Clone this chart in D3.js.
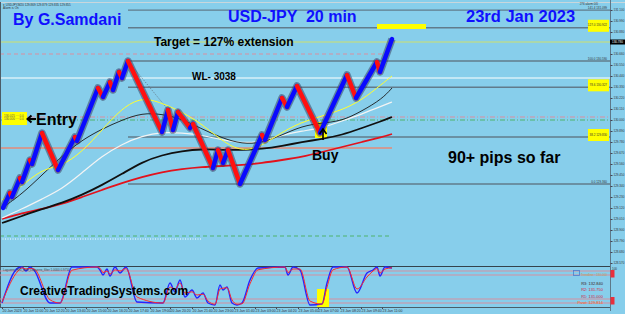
<!DOCTYPE html>
<html>
<head>
<meta charset="utf-8">
<script src="https://cdn.jsdelivr.net/npm/d3@7"></script>
<style>
body { margin: 0; background: #87ceeb; }
svg { display: block; font-family: "Liberation Sans", Arial, sans-serif; }
</style>
</head>
<body>
<svg id="chart"></svg>
<script>
//constants
const W = 625, H = 314;
const plotLeft = 2, plotRight = 610;
const mainBottom = 266;
const indTop = 267, indBottom = 307;

//renko swing points (bar index, price)
const renkoBars  = [0.5, 4, 5, 9, 10, 14, 15, 20, 28, 36.5, 37.5, 48, 50.5, 54, 55.5, 58.5, 60, 63,
                    80, 83, 85.5, 88, 94, 95.5, 105.5, 108, 110.5, 113, 119,
                    130, 131.5, 140, 142.5, 147.5, 159, 172.5, 177, 187.5, 189, 195];
const renkoPrice = [129.12, 129.27, 129.23, 129.42, 129.38, 129.60, 129.56, 129.87, 129.50, 129.83, 129.79, 130.32, 130.23, 130.38, 130.30, 130.48, 130.42, 130.59,
                    129.88, 130.10, 129.90, 130.08, 129.92, 129.96, 129.52, 129.70, 129.57, 129.70, 129.36,
                    129.85, 129.80, 130.22, 130.13, 130.34, 129.87, 130.45, 130.22, 130.58, 130.48, 130.81];

//moving averages
const maBars   = [0, 10, 20, 30, 40, 50, 60, 70, 80, 90, 100, 110, 120, 130, 140, 150, 160, 170, 180, 190, 195];
const maYellow = [129.20, 129.34, 129.51, 129.54, 129.68, 129.90, 130.12, 130.23, 130.17, 130.08, 129.96, 129.79, 129.68, 129.74, 129.88, 129.98, 130.04, 130.10, 130.20, 130.36, 130.44];
const maBlack  = [129.12, 129.26, 129.45, 129.64, 129.80, 129.91, 130.00, 130.07, 130.06, 130.01, 129.91, 129.82, 129.76, 129.77, 129.85, 129.94, 129.97, 129.99, 130.09, 130.21, 130.32];
const maWhite  = [129.02, 129.11, 129.21, 129.31, 129.47, 129.64, 129.76, 129.84, 129.88, 129.87, 129.85, 129.80, 129.77, 129.78, 129.85, 129.89, 129.92, 129.99, 130.06, 130.14, 130.18];
const maSlow   = [128.97, 129.04, 129.11, 129.17, 129.25, 129.35, 129.46, 129.58, 129.65, 129.69, 129.71, 129.70, 129.70, 129.71, 129.74, 129.78, 129.81, 129.85, 129.92, 129.99, 130.03];
const maRed    = [129.01, 129.07, 129.11, 129.16, 129.23, 129.30, 129.37, 129.43, 129.48, 129.51, 129.53, 129.54, 129.55, 129.57, 129.60, 129.63, 129.68, 129.73, 129.78, 129.83, 129.86];

//fibonacci
const fibLow = 129.36, fibHigh = 130.59, fibStartBar = 63;
const fibLevels = [0, 38.2, 78.6, 100, 127, 141.4];
const fibMarked = [38.2, 78.6, 127];

//horizontal levels
const currentPrice = 130.78;
const levelPrices = [130.66, 130.42, 130.03, 130.00, 129.72, 128.84, 128.81];
const levelEndBar = [195, null, null, null, 195, 195, 100];
const levelStyles = [
  {stroke: "#d98fa0", dash: "4,3", w: 1},
  {stroke: "#ffffff", dash: null, w: 1.2},
  {stroke: "#d98fa0", dash: "5,2,1,2", w: 1},
  {stroke: "#4fb36d", dash: "5,2,1,2", w: 1},
  {stroke: "#e58a78", dash: null, w: 1.5},
  {stroke: "#4fb36d", dash: "4,3", w: 1},
  {stroke: "#ffffff", dash: "1,1.5", w: 1}
];

//price axis ticks
const priceTicks = [131.100, 130.990, 130.880, 130.660, 130.550, 130.440, 130.330, 130.220, 130.110, 130.000,
                    129.890, 129.780, 129.670, 129.560, 129.450, 129.340, 129.230, 129.120, 129.010, 128.900,
                    128.790, 128.680, 128.570];

//time axis
const timeBars = [0, 10.5, 21, 31.5, 42, 52.5, 63, 74, 84, 95, 105.5, 116, 126.5, 137, 148, 158, 169, 179.5, 190];
const timeLabels = ["20 Jan 2023", "20 Jan 11:00", "20 Jan 12:20", "20 Jan 13:40", "20 Jan 15:00", "20 Jan 16:20",
                    "20 Jan 17:40", "20 Jan 19:00", "20 Jan 20:20", "20 Jan 21:40", "20 Jan 23:00", "23 Jan 01:40",
                    "23 Jan 03:00", "23 Jan 04:20", "23 Jan 05:40", "23 Jan 07:00", "23 Jan 08:20", "23 Jan 09:40", "23 Jan 11:00"];

//oscillator
const oscBars   = [0, 8, 10, 12, 14, 16, 24, 29, 35, 47.5, 49, 50.5, 52.5, 54, 56.5, 59, 62, 67.5, 80.5, 84, 86.5, 89, 91.5, 95, 97.5, 100.5,
                   103, 106.5, 109, 110.5, 112.5, 115, 117.5, 120, 124, 128, 141.5, 143, 145.5, 149, 154, 160, 162.5, 165.5, 172.5, 177.5,
                   182.5, 185.5, 187.5, 189, 191.5, 195];
const oscMain   = [0.10, 0.975, 1.0, 0.90, 1.0, 0.925, 0.10, 0.10, 1.0, 1.0, 0.925, 0.80, 0.95, 0.775, 1.0, 0.85, 1.0, 0.125, 0.10, 0.60, 0.375, 0.675, 0.25, 0.425, 0.225, 0.35,
                   0.10, 0.05, 0.55, 0.425, 0.50, 0.10, 0.05, 0.10, 0.675, 0.975, 1.0, 0.80, 1.0, 0.925, 0.05, 0.075, 0.60, 1.0, 1.0, 0.35,
                   0.85, 0.925, 1.0, 0.775, 1.0, 0.975];
const oscSignal = [0.12, 0.90, 0.98, 0.95, 0.96, 0.95, 0.18, 0.10, 0.92, 1.0, 0.97, 0.86, 0.90, 0.82, 0.93, 0.90, 0.96, 0.25, 0.10, 0.50, 0.45, 0.60, 0.35, 0.38, 0.30, 0.32,
                   0.15, 0.07, 0.45, 0.47, 0.48, 0.18, 0.07, 0.08, 0.58, 0.93, 1.0, 0.86, 0.95, 0.95, 0.15, 0.07, 0.50, 0.93, 1.0, 0.45,
                   0.75, 0.90, 0.96, 0.85, 0.95, 0.98];
const oscLevels = [0.9, 0.8, 0.2, 0.1];
const pivotNames  = ["R3: 132.840", "R2: 131.750", "R1: 131.000", "Pivot: 129.814"];

//annotations
const buyBar = 161.5, buyPrice = 129.87;
const entryPrice = 130.02;

//main
function main() {

    let svg = d3.select("#chart")
        .attr("width", W)
        .attr("height", H)
        .style("background-color", "#87ceeb");

    //scales
    let xScale = d3.scaleLinear().domain([0, 195]).range([plotLeft, 392]);
    let yScale = d3.scaleLinear().domain([128.54, 131.20]).range([mainBottom, 0]);
    let yOsc = d3.scaleLinear().domain([0, 1]).range([indBottom, indTop]);

    //frame
    svg.append("line").attr("x1", 0).attr("x2", W).attr("y1", 2.5).attr("y2", 2.5)
        .attr("stroke", "#c9d6dc").attr("stroke-width", 1);

    //fib lines
    let fibY = l => yScale(fibLow + (fibHigh - fibLow) * l / 100);
    fibLevels.forEach(function(l) {
        let y = fibY(l);
        svg.append("line")
            .attr("x1", xScale(fibStartBar)).attr("x2", plotRight)
            .attr("y1", y).attr("y2", y)
            .attr("stroke", "#617b8b").attr("stroke-width", 1.4);
        if (fibMarked.includes(l)) {
            svg.append("rect").attr("x", 588).attr("y", y - 8).attr("width", 21).attr("height", 12)
                .attr("fill", "#ffff00");
        }
        svg.append("text")
            .attr("x", 607).attr("y", y - 1.5)
            .style("text-anchor", "end").style("font-size", "3px").style("fill", "#333")
            .text(l.toFixed(1) + "  " + (fibLow + (fibHigh - fibLow) * l / 100).toFixed(3));
    });

    //target highlight
    svg.append("rect")
        .attr("x", xScale(187.5)).attr("y", yScale(130.96))
        .attr("width", xScale(212) - xScale(187.5)).attr("height", yScale(130.91) - yScale(130.96))
        .attr("fill", "#ffff00");

    //horizontal levels
    levelPrices.forEach(function(p, i) {
        let s = levelStyles[i];
        svg.append("line")
            .attr("x1", 0).attr("x2", levelEndBar[i] === null ? plotRight : xScale(levelEndBar[i]))
            .attr("y1", yScale(p)).attr("y2", yScale(p))
            .attr("stroke", s.stroke).attr("stroke-width", s.w)
            .attr("stroke-dasharray", s.dash);
    });

    //current price line
    svg.append("line")
        .attr("x1", 0).attr("x2", plotRight)
        .attr("y1", yScale(currentPrice)).attr("y2", yScale(currentPrice))
        .attr("stroke", "#cfe06a").attr("stroke-width", 1);

    //trend line
    svg.append("line")
        .attr("x1", xScale(63)).attr("y1", yScale(130.59))
        .attr("x2", xScale(84)).attr("y2", yScale(130.08))
        .attr("stroke", "#5c6670").attr("stroke-width", 0.8).attr("stroke-dasharray", "1,1.5");

    //buy highlight
    svg.append("rect")
        .attr("x", xScale(buyBar) - 10).attr("y", yScale(buyPrice) - 11)
        .attr("width", 12).attr("height", 16)
        .attr("fill", "#ffff00");

    //moving averages
    let maLine = d3.line()
        .x((d, i) => xScale(maBars[i]))
        .y(d => yScale(d))
        .curve(d3.curveBasis);

    [[maRed, "#e3121c", 1.8], [maSlow, "#101010", 1.8], [maWhite, "#f4f4f4", 1.2],
     [maBlack, "#1a1a1a", 0.9], [maYellow, "#ffff30", 1]].forEach(function(m) {
        svg.append("path")
            .datum(m[0])
            .attr("fill", "none")
            .attr("stroke", m[1])
            .attr("stroke-width", m[2])
            .attr("d", maLine);
    });

    //renko
    let renko = renkoBars.map((b, i) => ({x: b, y: renkoPrice[i]}));
    svg.append("path")
        .datum(renko)
        .attr("fill", "none")
        .attr("stroke", "#34385a")
        .attr("stroke-opacity", 0.5)
        .attr("stroke-width", 7.5)
        .attr("stroke-linejoin", "round")
        .attr("d", d3.line().x(d => xScale(d.x)).y(d => yScale(d.y)));

    for (let i = 1; i < renko.length; i++) {
        let a = renko[i - 1], b = renko[i];
        svg.append("line")
            .attr("x1", xScale(a.x)).attr("y1", yScale(a.y))
            .attr("x2", xScale(b.x)).attr("y2", yScale(b.y))
            .attr("stroke", b.y > a.y ? "#0a0aff" : "#ff1010")
            .attr("stroke-width", 4.5)
            .attr("stroke-linecap", "round");
    }

    //buy arrow
    let bx = xScale(buyBar) - 2, by = yScale(buyPrice);
    svg.append("line").attr("x1", bx).attr("x2", bx).attr("y1", by - 3).attr("y2", by + 7)
        .attr("stroke", "#000").attr("stroke-width", 1.6);
    svg.append("path")
        .attr("d", `M${bx - 3.5},${by + 1} L${bx},${by - 4} L${bx + 3.5},${by + 1}`)
        .attr("fill", "none").attr("stroke", "#000").attr("stroke-width", 1.6);

    //entry box and arrow
    let ey = yScale(entryPrice);
    svg.append("rect").attr("x", 2).attr("y", ey - 6).attr("width", 25).attr("height", 13)
        .attr("fill", "#ffff00");
    svg.append("text").attr("x", 4).attr("y", ey - 1.5).style("font-size", "3px").style("fill", "#555")
        .text("130.025 ··· 0.0");
    svg.append("text").attr("x", 4).attr("y", ey + 2).style("font-size", "3px").style("fill", "#555")
        .text("130.000 ··· 0.0");
    svg.append("path")
        .attr("d", `M36,${ey + 1} L28,${ey + 1} M31.5,${ey - 2.5} L27.5,${ey + 1} L31.5,${ey + 4.5}`)
        .attr("fill", "none").attr("stroke", "#000").attr("stroke-width", 2);

    //panel separators and axis line
    svg.append("line").attr("x1", 0.5).attr("x2", 0.5).attr("y1", 2).attr("y2", indBottom)
        .attr("stroke", "#4b5d68").attr("stroke-width", 1);
    svg.append("line").attr("x1", 0).attr("x2", plotRight).attr("y1", 266.5).attr("y2", 266.5)
        .attr("stroke", "#34434c").attr("stroke-width", 1.2);
    svg.append("line").attr("x1", 0).attr("x2", plotRight).attr("y1", indBottom + 0.5).attr("y2", indBottom + 0.5)
        .attr("stroke", "#4b5d68").attr("stroke-width", 1);
    svg.append("line").attr("x1", plotRight + 0.5).attr("x2", plotRight + 0.5).attr("y1", 0).attr("y2", indBottom + 4)
        .attr("stroke", "#5d7888").attr("stroke-width", 1);

    //price axis
    let yAxis = d3.axisRight(yScale)
        .tickValues(priceTicks)
        .tickFormat(d3.format(".3f"))
        .tickSize(2)
        .tickPadding(1);
    let ga = svg.append("g")
        .attr("transform", "translate(" + (plotRight + 0.5) + ",0)")
        .call(yAxis);
    ga.select(".domain").remove();
    ga.selectAll("line").attr("stroke", "#445");
    ga.selectAll("text").style("font-size", "3px").style("fill", "#333");

    //current price label
    svg.append("rect").attr("x", plotRight).attr("y", yScale(currentPrice) - 2.5)
        .attr("width", 15).attr("height", 5).attr("fill", "#000");
    svg.append("text").attr("x", plotRight + 2).attr("y", yScale(currentPrice) + 1)
        .style("font-size", "3px").style("fill", "#fff").text(currentPrice.toFixed(3));

    //oscillator
    oscLevels.forEach(function(l) {
        svg.append("line").attr("x1", 0).attr("x2", plotRight)
            .attr("y1", yOsc(l)).attr("y2", yOsc(l))
            .attr("stroke", "#d58f9f").attr("stroke-width", 1);
    });

    svg.append("rect")
        .attr("x", xScale(buyBar) - 8).attr("y", yOsc(0.45))
        .attr("width", 12).attr("height", yOsc(0) - yOsc(0.45))
        .attr("fill", "#ffff00");

    let oscLine = d3.line()
        .x((d, i) => xScale(oscBars[i]))
        .y(d => yOsc(d))
        .curve(d3.curveMonotoneX);

    svg.append("path").datum(oscMain)
        .attr("fill", "none").attr("stroke", "#2424ff").attr("stroke-width", 1.4)
        .attr("d", oscLine);
    svg.append("path").datum(oscSignal)
        .attr("fill", "none").attr("stroke", "#ff2a2a").attr("stroke-width", 1)
        .attr("d", oscLine);

    svg.append("text").attr("x", 3).attr("y", 270.5)
        .style("font-size", "3px").style("fill", "#444")
        .text("Laguerre_RSI_with_Laguerre_filter 1.0000 0.9750");

    //pivot labels
    let pivotColors = ["#3a1b22", "#d81b3c", "#d81b3c", "#ff5a10"];
    pivotNames.forEach(function(t, i) {
        svg.append("text").attr("x", 603).attr("y", 284.5 + i * 6.5)
            .style("text-anchor", "end").style("font-size", "4px").style("fill", pivotColors[i])
            .text(t);
    });
    svg.append("rect").attr("x", 573.5).attr("y", 270.5).attr("width", 6).attr("height", 5)
        .attr("fill", "none").attr("stroke", "#4a7fd0").attr("stroke-width", 0.8);
    svg.append("text").attr("x", 607).attr("y", 276)
        .style("text-anchor", "end").style("font-size", "3px").style("fill", "#b8a060")
        .text("Trendline · 130.000");
    svg.append("rect").attr("x", plotRight + 0.5).attr("y", 270).attr("width", 4).attr("height", 7.5).attr("fill", "#e8303c");
    svg.append("rect").attr("x", plotRight + 0.5).attr("y", 297).attr("width", 4).attr("height", 7.5).attr("fill", "#e8303c");
    svg.append("text").attr("x", plotRight + 2).attr("y", 269.5)
        .style("font-size", "3px").style("fill", "#333").text("100");

    //time axis
    let xAxis = d3.axisBottom(xScale)
        .tickValues(timeBars)
        .tickFormat((d, i) => timeLabels[i])
        .tickSize(1.5)
        .tickPadding(1);
    let gx = svg.append("g")
        .attr("transform", "translate(0," + (indBottom + 0.5) + ")")
        .call(xAxis);
    gx.select(".domain").remove();
    gx.selectAll("line").attr("stroke", "#445");
    gx.selectAll("text").style("font-size", "3.5px").style("fill", "#333").style("text-anchor", "start");

    //top info
    svg.append("text").attr("x", 3).attr("y", 5.5).style("font-size", "3px").style("fill", "#333")
        .text("▾ USDJPY,M20  129.869 129.879 129.835 129.855");
    svg.append("text").attr("x", 3).attr("y", 9).style("font-size", "3px").style("fill", "#333")
        .text("Alarm is On");
    svg.append("text").attr("x", 598).attr("y", 5).style("text-anchor", "end")
        .style("font-size", "3px").style("fill", "#333").text("276 alarm 0/0");

    //titles
    let big = (x, y, size, color, t) => svg.append("text")
        .attr("x", x).attr("y", y)
        .style("font-size", size + "px").style("font-weight", "bold")
        .style("fill", color).style("white-space", "pre")
        .text(t);

    big(13, 24.5, 16, "#1010ff", "By G.Samdani");
    big(228, 22, 16, "#1010ff", "USD-JPY  20 min");
    big(466, 22, 16.5, "#1010ff", "23rd Jan 2023");
    big(154, 46, 12, "#000", "Target = 127% extension");
    big(192, 80, 10, "#000", "WL- 3038");
    big(36, 125, 16, "#000", "Entry");
    big(448, 163, 16, "#000", "90+ pips so far");
    big(312, 160, 14, "#000", "Buy");
    big(20, 294.5, 12, "#000", "CreativeTradingSystems.com");
}

main();
</script>
</body>
</html>
